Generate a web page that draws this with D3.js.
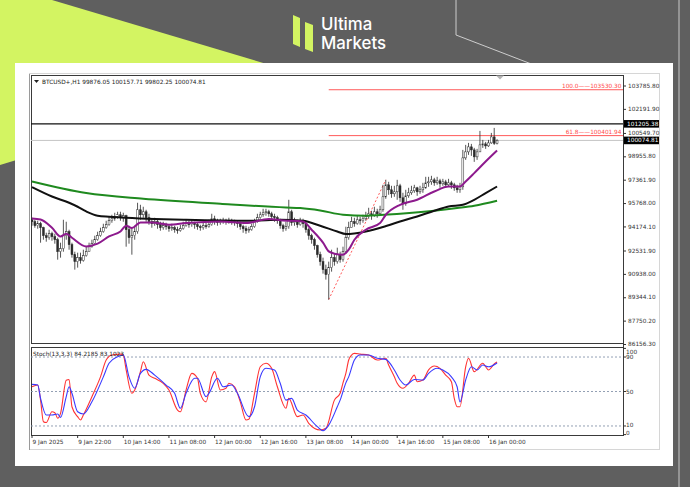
<!DOCTYPE html>
<html><head><meta charset="utf-8">
<script src="https://cdn.jsdelivr.net/npm/d3@7"></script>
<style>html,body{margin:0;padding:0;background:#5f5f5f;overflow:hidden}</style>
</head><body><svg id="c" width="690" height="487"></svg>
<script>
// ---------------- DATA ----------------
const symbolTitle = "BTCUSD+,H1  99876.05 100157.71 99802.25 100074.81";
const stochTitle = "Stoch(13,3,3) 84.2185 83.1023";
const firstOpen = 94660;
const closes = [94528,94256,94392,94120,93575,93439,93711,93507,93303,92486,92690,93575,93848,92963,92282,91806,92078,91874,92214,92486,
92827,93031,93303,93575,93848,94120,94324,94596,94732,94869,95005,94801,94937,93984,93439,93575,93848,95345,95005,95209,
94801,94528,94392,94528,94324,94120,94256,94188,94052,94120,93984,93916,94052,94256,94392,94324,94460,94324,94188,94120,
94256,94188,94324,94732,94596,94460,94528,94596,94528,94596,94528,94460,94392,94188,94052,93916,93984,94188,94528,94801,
95005,95141,95209,95073,94869,94801,94596,94256,94052,94188,95209,94460,94528,94324,94596,94392,93984,93575,93303,92895,
92282,91806,91261,90921,91397,92078,91806,92282,91942,92486,93439,94120,94528,94392,94664,94596,94732,94869,95073,94937,
95209,95073,95345,96230,97047,96707,96434,96571,96979,96162,95754,96298,96503,96639,96843,96571,96707,96843,97183,97251,
97387,97183,97319,97115,97251,97047,97183,97047,96843,96707,96911,98885,99293,99634,99429,98953,99293,99770,99838,99702,
99906,100314,99876.05,100074.81];
const highs = [94801,94664,94596,94528,94188,93779,93984,93848,93711,93439,93099,94664,94528,93984,93099,92486,92418,92418,92622,92827,
93099,93303,93575,93848,94120,94392,94596,94869,95005,95141,95209,95209,95141,95005,94256,94120,94256,95822,95686,95550,
95345,95073,94732,94801,94664,94528,94528,94460,94324,94392,94256,94188,94324,94528,94664,94596,94664,94528,94460,94324,
94528,94460,94664,95073,94937,94732,94732,94801,94732,94801,94732,94664,94596,94528,94324,94256,94188,94392,94732,95073,
95209,95413,95413,95345,95209,95073,94937,94732,94392,94528,96026,95345,94801,94664,94801,94732,94528,94120,93711,93439,
92963,92486,92078,91601,91806,92622,92350,92758,92486,92827,94188,94528,94869,94801,94937,94869,95005,95209,95481,95277,
95550,95413,95618,97047,97387,97251,96979,96979,97387,97115,96503,96707,96843,96979,97047,96911,96979,97183,97592,97592,
97660,97524,97592,97456,97456,97387,97456,97319,97183,97047,97183,99429,99770,99906,99838,99566,99498,100723,100110,99974,
100110,100587,100927,100157.71];
const lows = [94256,94120,94052,93099,93303,93167,93303,93235,93031,91942,92078,92486,93303,92622,92078,91261,91397,91669,91806,92146,
92486,92758,92963,93235,93507,93779,94052,94256,94460,94596,94732,94596,94528,92827,93031,92282,93303,93711,94664,94801,
94528,94324,94120,94256,94052,93916,93984,93984,93848,93916,93779,93711,93848,93984,94188,94120,94188,94052,93984,93916,
93984,94052,94120,94256,94324,94256,94324,94392,94324,94392,94324,94256,94120,93984,93779,93711,93779,93916,94120,94460,
94732,94869,94937,94869,94664,94528,94392,94052,93848,93916,94052,94256,94256,94120,94256,94120,93779,93303,93031,92622,
92078,91533,90989,90580,89219,91125,91533,91669,91737,91806,92350,93303,94188,94188,94324,94324,94460,94596,94732,94664,
94869,94801,94937,95209,96094,96366,96162,96230,96026,95890,95345,95618,96162,96366,96503,96298,96434,96503,96775,96911,
97047,96979,97047,96843,96979,96843,96911,96775,96639,96503,96503,96707,98749,99089,99021,98613,98749,99429,99566,99498,
99634,99838,99770,99802.25];
// moving averages: [bar index, price]
const maFast = [[0,94755],[3,94687],[7,94120],[10,93527],[12,93711],[14,93439],[19,92847],[23,93031],[27,93527],[31,93868],[33,94256],[35,94100],[38,94481],[42,94481],[48,94324],[54,94440],[66,94549],[75,94440],[83,94712],[88,94617],[95,94549],[98,93984],[102,93099],[104,92507],[106,92350],[109,92282],[111,92622],[113,93303],[117,93984],[122,94440],[124,95005],[129,95686],[135,96026],[141,96591],[146,96932],[150,96932],[152,97272],[155,97843],[159,98633],[163,99382]];
const maMid = [[0,96891],[7,96251],[13,95822],[16,95550],[19,95230],[23,94937],[27,94869],[31,94822],[54,94664],[77,94596],[87,94664],[95,94596],[101,94250],[107,93868],[110,93691],[117,93868],[123,94168],[129,94549],[135,94889],[141,95277],[146,95570],[151,95686],[155,96026],[159,96482],[163,96932]];
const maSlow = [[0,97272],[19,96482],[39,96094],[66,95754],[89,95502],[94,95461],[101,95297],[109,95005],[117,94937],[129,95073],[141,95277],[149,95461],[155,95618],[163,95958]];
const stochMain = [[0,55.5],[2,57.5],[3,40],[4,15],[5,14],[7,26.5],[8,25.4],[9,19],[10,24.7],[12,63],[13,64],[14,32.3],[16,20.8],[17,17],[18,22.7],[21,44],[24,67],[26,86.5],[28,92.3],[31,93.4],[32,92.3],[33,75],[35,47.9],[36,51.7],[38,73],[39,84.5],[41,69],[43,65.3],[46,59.5],[48,51.7],[51,28.5],[52,26.5],[54,51.7],[56,71],[58,65.3],[59,47.9],[61,38],[63,67],[64,73],[66,51.7],[68,53.7],[69,59.5],[71,55.5],[73,38],[75,17],[76,17.7],[78,47.9],[80,78.7],[82,82.7],[84,76.9],[86,55.5],[89,30.5],[90,42],[93,20.8],[95,22.7],[97,13],[101,5.3],[103,7.3],[106,40],[108,47.9],[109,60],[110,71],[111,86.5],[112,92.3],[113,94.2],[115,93.4],[118,92.3],[121,86.5],[124,88.5],[125,80.7],[127,67],[128,59.5],[130,53.7],[132,59.5],[134,69],[135,61.3],[137,63.3],[139,75],[141,79.5],[143,76.9],[145,69],[147,61.3],[148,42],[149,32.3],[150,32.3],[152,78.7],[153,88.5],[155,73],[158,82.7],[159,78.7],[160,75],[162,81.9],[163,84.2]];
const stochSignal = [[0,58.3],[2,57.5],[3,42],[5,22.7],[7,22.7],[9,23.9],[10,20],[12,44],[13,55.5],[14,47.9],[16,26.5],[18,23.9],[21,38],[25,67],[27,82.7],[30,90.3],[32,92.3],[34,67],[36,53.7],[38,71],[40,75.7],[43,69],[47,57.5],[50,47.9],[52,30.5],[54,47.9],[57,65.3],[58,65.3],[61,44],[62,47.9],[65,65.3],[67,55.5],[70,57.5],[72,47.9],[76,20.8],[78,32.3],[80,67],[82,76.9],[85,75],[87,59.5],[89,40],[91,42],[93,28.5],[96,22.7],[100,9.2],[102,4.5],[104,11],[107,32.3],[108,40],[110,60],[111,67],[113,86.5],[115,92.3],[118,92.3],[121,88.5],[124,87.3],[127,75],[129,63.3],[131,57.5],[134,64],[137,63.3],[139,71],[142,76.9],[144,75],[147,67],[149,55.5],[150,38],[152,63.3],[154,78.7],[156,75],[158,80.7],[160,78.7],[163,83.1]];
const priceTicks = [103785.80,102191.90,100549.70,98955.80,97361.90,95768.00,94174.10,92531.90,90938.00,89344.10,87750.20,86156.30];
const timeLabels = ["9 Jan 2025","9 Jan 22:00","10 Jan 14:00","11 Jan 08:00","12 Jan 00:00","12 Jan 16:00","13 Jan 08:00","14 Jan 00:00","14 Jan 16:00","15 Jan 08:00","16 Jan 00:00"];
const timeLabelBars = [0,16,32,48,64,80,96,112,128,144,160];
const resistanceLevel = 101205.38;
const bidLevel = 100074.81;
const fibLevels = ["100.0","61.8"];
const fibPrices = [103530.30,100401.94];
const fibStartBar = 104;
const fibTrendBars = [104,124];
const fibTrendPrices = [89219,97387];
const stochLevels = [90,50,10];
const stochAxisLabels = [100,90,50,10,0];

// ---------------- DRAW ----------------
const svg = d3.select('#c');
const F = "'DejaVu Sans', sans-serif";
const FS = 5.8;

svg.append('rect').attr('width',690).attr('height',487).attr('fill','#5f5f5f');
svg.append('polygon').attr('points','0,0 52,0 300,74 0,165').attr('fill','#d3f462');
svg.append('polyline').attr('points','456,0 456,35 560,75').attr('fill','none').attr('stroke','#cdcdcd').attr('stroke-width',1);
svg.append('line').attr('x1',679).attr('y1',0).attr('x2',679).attr('y2',487).attr('stroke','#a6a6a6').attr('stroke-width',1.5);

// logo
const logo = svg.append('g');
logo.append('polygon').attr('points','293,15 300,18 300,47 293,44').attr('fill','#d3f462');
logo.append('polygon').attr('points','305,22 313,25 313,52 305,49').attr('fill','#d3f462');
logo.append('text').attr('x',321).attr('y',29.5).text('Ultima').attr('fill','#fff').attr('font-family','Inter, Roboto, sans-serif').attr('font-weight',500).attr('font-size',16.8);
logo.append('text').attr('x',321).attr('y',48.5).text('Markets').attr('fill','#fff').attr('font-family','Inter, Roboto, sans-serif').attr('font-weight',500).attr('font-size',16.8);

// card
svg.append('rect').attr('x',15).attr('y',63).attr('width',658).attr('height',403).attr('fill','#ffffff');
svg.append('rect').attr('x',29.5).attr('y',73.5).attr('width',630).attr('height',376).attr('fill','none').attr('stroke','#d6d6d6');

// scales
const x = d3.scaleLinear().domain([0,160]).range([32,488.5]);
const y = d3.scaleLinear().domain([86156.30,103785.80]).range([344.5,86]);
const ys = d3.scaleLinear().domain([0,100]).range([434.6,348.4]);

const L = 31, R = 623, MT = 75, MB = 343, ST = 347, SB = 435;
const defs = svg.append('defs');
defs.append('clipPath').attr('id','cm').append('rect').attr('x',L).attr('y',MT).attr('width',R-L).attr('height',MB-MT);
defs.append('clipPath').attr('id','cs').append('rect').attr('x',L).attr('y',ST).attr('width',R-L).attr('height',SB-ST);

// panels
svg.append('line').attr('x1',29.5).attr('x2',29.5).attr('y1',74).attr('y2',450).attr('stroke','#9a9a9a');
svg.append('rect').attr('x',L+0.5).attr('y',MT+0.5).attr('width',R-L).attr('height',MB-MT).attr('fill','none').attr('stroke','#3a3a3a');
svg.append('rect').attr('x',L+0.5).attr('y',ST+0.5).attr('width',R-L).attr('height',SB-ST).attr('fill','none').attr('stroke','#3a3a3a');

const main = svg.append('g').attr('clip-path','url(#cm)');
// horizontal levels
main.append('line').attr('x1',L).attr('x2',R).attr('y1',y(resistanceLevel)).attr('y2',y(resistanceLevel)).attr('stroke','#111').attr('stroke-width',1.2);
main.append('line').attr('x1',L).attr('x2',R).attr('y1',y(bidLevel)).attr('y2',y(bidLevel)).attr('stroke','#c4c4c4').attr('stroke-width',1);
fibPrices.forEach((p,k)=>{
  main.append('line').attr('x1',x(fibStartBar)).attr('x2',R).attr('y1',y(p)).attr('y2',y(p)).attr('stroke','#ff5a5a').attr('stroke-width',1);
  main.append('text').attr('x',R-1.5).attr('y',y(p)-1.5).attr('text-anchor','end').attr('font-family',F).attr('font-size',FS).attr('fill','#ff4a4a').text(fibLevels[k]+'——'+d3.format('.2f')(p));
});
main.append('line').attr('x1',x(fibTrendBars[0])).attr('y1',y(fibTrendPrices[0])).attr('x2',x(fibTrendBars[1])).attr('y2',y(fibTrendPrices[1])).attr('stroke','#ff5a5a').attr('stroke-dasharray','2,2').attr('stroke-width',1);

// candles
const cw = 1.9;
closes.forEach((c,i)=>{
  const o = i===0 ? firstOpen : closes[i-1];
  const hi = highs[i], lo = lows[i];
  main.append('line').attr('x1',x(i)).attr('x2',x(i)).attr('y1',y(Math.max(hi,o,c))).attr('y2',y(Math.min(lo,o,c))).attr('stroke','#2a2a2a').attr('stroke-width',0.8);
  const top = y(Math.max(o,c)), bot = y(Math.min(o,c));
  main.append('rect').attr('x',x(i)-cw/2).attr('y',top).attr('width',cw).attr('height',Math.max(0.8,bot-top))
    .attr('fill', c>=o ? '#ffffff' : '#2a2a2a').attr('stroke','#2a2a2a').attr('stroke-width',0.5);
});

// moving averages
const maLine = d3.line().x(d=>x(d[0])).y(d=>y(d[1])).curve(d3.curveMonotoneX);
main.append('path').attr('d',maLine(maSlow)).attr('fill','none').attr('stroke','#1f8a1f').attr('stroke-width',2);
main.append('path').attr('d',maLine(maMid)).attr('fill','none').attr('stroke','#111').attr('stroke-width',2);
main.append('path').attr('d',maLine(maFast)).attr('fill','none').attr('stroke','#8d1a8d').attr('stroke-width',2);

// shift marker
svg.append('polygon').attr('points','496,75.5 504,75.5 500,79.5').attr('fill','#b4b4b4');

// title
svg.append('polygon').attr('points','34,80 39,80 36.5,83').attr('fill','#222');
svg.append('text').attr('x',42).attr('y',84).attr('font-family',F).attr('font-size',FS).attr('fill','#222').text(symbolTitle);

// price axis
svg.append('line').attr('x1',R+0.5).attr('x2',R+0.5).attr('y1',MT).attr('y2',SB).attr('stroke','#3a3a3a');
priceTicks.forEach(p=>{
  svg.append('line').attr('x1',R).attr('x2',R+3).attr('y1',y(p)).attr('y2',y(p)).attr('stroke','#333');
  svg.append('text').attr('x',R+5).attr('y',y(p)+1.6).attr('font-family',F).attr('font-size',FS).attr('fill','#333').text(d3.format('.2f')(p));
});
[resistanceLevel,bidLevel].forEach(p=>{
  svg.append('rect').attr('x',R+1).attr('y',y(p)-3.8).attr('width',35).attr('height',7.6).attr('fill','#000');
  svg.append('text').attr('x',R+4).attr('y',y(p)+2).attr('font-family',F).attr('font-size',FS).attr('fill','#fff').text(d3.format('.2f')(p));
});

// stochastic
const sg = svg.append('g').attr('clip-path','url(#cs)');
stochLevels.forEach(v=>{
  sg.append('line').attr('x1',L).attr('x2',R).attr('y1',ys(v)).attr('y2',ys(v)).attr('stroke','#8795ab').attr('stroke-dasharray','2,2').attr('stroke-width',0.9);
});
const sLine = d3.line().x(d=>x(d[0])).y(d=>ys(d[1])).curve(d3.curveMonotoneX);
sg.append('path').attr('d',sLine(stochMain)).attr('fill','none').attr('stroke','#ff3333').attr('stroke-width',1.1);
sg.append('path').attr('d',sLine(stochSignal)).attr('fill','none').attr('stroke','#3a3aff').attr('stroke-width',1.1);
svg.append('text').attr('x',33).attr('y',356).attr('font-family',F).attr('font-size',FS).attr('fill','#222').text(stochTitle);
stochAxisLabels.forEach(v=>{
  const off = v===100 ? 5.5 : (v===0 ? 0.2 : (v===10 ? 1.2 : 2));
  svg.append('line').attr('x1',R).attr('x2',R+3).attr('y1',ys(v)).attr('y2',ys(v)).attr('stroke','#333');
  svg.append('text').attr('x',R+3).attr('y',ys(v)+off).attr('font-family',F).attr('font-size',FS).attr('fill','#333').text(v);
});

// time axis
timeLabelBars.forEach((b,k)=>{
  svg.append('line').attr('x1',x(b)).attr('x2',x(b)).attr('y1',SB).attr('y2',SB+3).attr('stroke','#333');
  svg.append('text').attr('x',x(b)+0.5).attr('y',444).attr('font-family',F).attr('font-size',FS).attr('fill','#333').text(timeLabels[k]);
});
</script></body></html>
